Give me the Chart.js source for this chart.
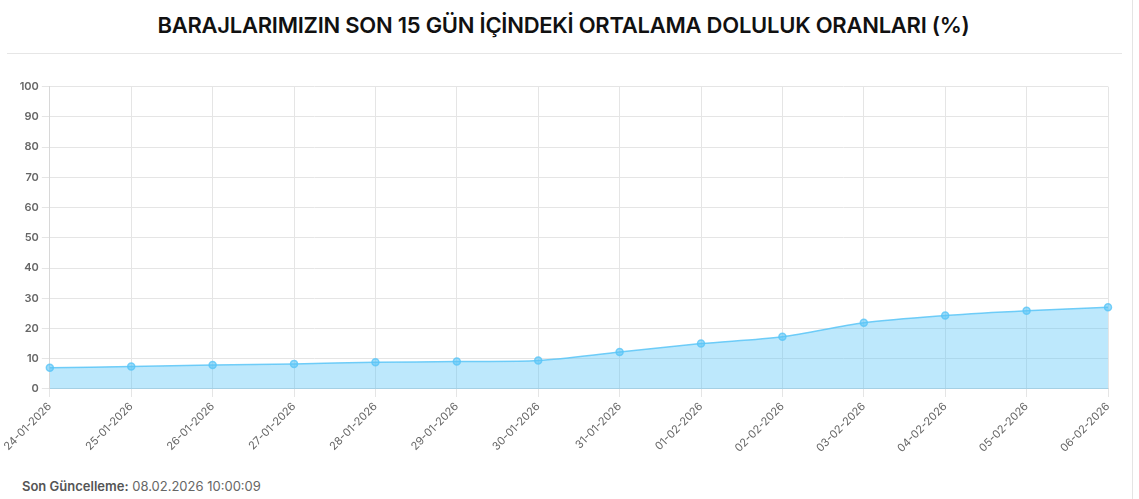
<!DOCTYPE html>
<html lang="tr">
<head>
<meta charset="utf-8">
<script src="https://cdn.jsdelivr.net/npm/chart.js@4.4.1/dist/chart.umd.min.js"></script>
<style>
  html, body { margin: 0; padding: 0; background: #fff; width: 1139px; height: 499px; overflow: hidden; font-family: Inter, "Noto Sans", sans-serif; }
  .card { position: absolute; left: -20px; top: -14px; width: 1153px; height: 540px; border: 1px solid #e4e4e4; border-radius: 14px; box-sizing: border-box; }
  .title { position: absolute; left: 0; width: 1127px; top: 12px; text-align: center; font-size: 22px; font-weight: 600; color: #111; letter-spacing: -0.25px; }
  .divider { position: absolute; left: 7px; width: 1115px; top: 53px; border-top: 1px solid #e6e6e6; }
  .chart-wrap { position: absolute; left: 3px; top: 77px; width: 1119px; height: 381px; }
  .footer { position: absolute; left: 22px; top: 478px; font-size: 13px; color: #666; }
  .footer b { color: #555; font-weight: 600; }
</style>
</head>
<body>
<div class="card"></div>
<div class="title">BARAJLARIMIZIN SON 15 GÜN İÇİNDEKİ ORTALAMA DOLULUK ORANLARI (%)</div>
<div class="divider"></div>
<div class="chart-wrap"><canvas id="dolulukChart"></canvas></div>
<div class="footer"><b>Son Güncelleme:</b> 08.02.2026 10:00:09</div>
<script>
const tarihler = [
  "24-01-2026", "25-01-2026", "26-01-2026", "27-01-2026", "28-01-2026",
  "29-01-2026", "30-01-2026", "31-01-2026", "01-02-2026", "02-02-2026",
  "03-02-2026", "04-02-2026", "05-02-2026", "06-02-2026",
];
const doluluk = [7.0, 7.4, 7.9, 8.3, 8.8, 9.1, 9.4, 12.2, 15.0, 17.3, 21.9, 24.3, 25.9, 27.0];
const yTicks = [0, 10, 20, 30, 40, 50, 60, 70, 80, 90, 100];

const canvas = document.getElementById("dolulukChart");
new Chart(canvas.getContext("2d"), {
  type: "line",
  data: {
    labels: tarihler,
    datasets: [
      {
        label: "Doluluk (%)",
        data: doluluk,
        borderColor: "rgba(90,197,247,0.85)",
        backgroundColor: "rgba(90,197,247,0.4)",
        pointBackgroundColor: "rgba(90,197,247,0.6)",
        pointBorderColor: "rgba(90,197,247,0.8)",
        pointRadius: 3.5,
        borderWidth: 1.5,
        fill: true,
        tension: 0.3,
      },
    ],
  },
  options: {
    responsive: true,
    maintainAspectRatio: false,
    animation: false,
    layout: { padding: { left: 0, right: 14, top: 6, bottom: 0 } },
    plugins: { legend: { display: false }, tooltip: { enabled: false } },
    scales: {
      x: {
        grid: { color: "#e5e5e5" },
        border: { color: "#d8d8d8" },
        ticks: {
          color: "#666",
          font: { family: "Inter", size: 11 },
          minRotation: 45,
          maxRotation: 45,
          autoSkip: false,
        },
      },
      y: {
        min: 0,
        max: 100,
        afterBuildTicks: (axis) => {
          axis.ticks = yTicks.map((v) => ({ value: v }));
        },
        grid: { color: "#e5e5e5" },
        border: { color: "#d8d8d8" },
        ticks: {
          color: "#666",
          font: { family: "Inter", size: 11, weight: "600" },
        },
      },
    },
  },
});
</script>
</body>
</html>
